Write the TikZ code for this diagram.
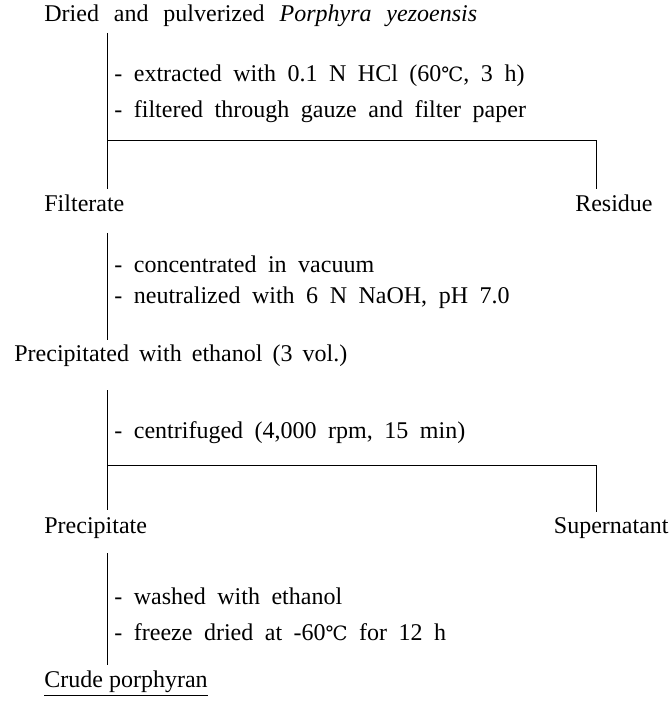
\documentclass[tikz,border=0pt]{standalone}
\usepackage{fontspec}
\setmainfont{Liberation Serif}
\newfontfamily\symfont[Scale=0.82]{DejaVu Serif}
\newcommand{\degC}{{\symfont ℃}}
\newcommand{\widesp}[1]{\spaceskip=#1em plus 0.1em minus 0.05em\relax}
\usetikzlibrary{positioning}
\tikzset{
  stage/.style={anchor=base west,inner sep=0pt,font=\fontsize{12}{14}\selectfont,
    execute at begin node={\widesp{0.42}}},
  note/.style={anchor=base west,inner sep=0pt,font=\fontsize{12}{14}\selectfont,
    execute at begin node={\widesp{0.48}}},
  flow/.style={line width=0.5pt}
}
\begin{document}
\begin{tikzpicture}[x=0.5pt,y=-0.5pt]
            \useasboundingbox (0,0) rectangle (670,716);
            % stages
            \node[stage,execute at begin node={\widesp{0.62}}] (dried) at (44,22) {Dried and pulverized \textit{Porphyra yezoensis}};
            \node[stage] (filt) at (44,212) {Filterate};
            \node[stage,anchor=base east] (resid) at (653,212) {Residue};
            \node[stage] (ppt) at (14,361) {Precipitated with ethanol (3 vol.)};
            \node[stage] (prec) at (44,533) {Precipitate};
            \node[stage,anchor=base east] (super) at (669,533) {Supernatant};
            \node[stage,execute at begin node={\widesp{0.25}}] (crude) at (44,687) {\underline{Crude porphyran}};
            % treatments
            \node[note] (s1) at (114,82) {- extracted with 0.1 N HCl (60\degC, 3 h)};
            \node[note] (s2) at (114,118) {- filtered through gauze and filter paper};
            \node[note] (s3) at (114,272) {- concentrated in vacuum};
            \node[note] (s4) at (114,304) {- neutralized with 6 N NaOH, pH 7.0};
            \node[note] (s5) at (114,438) {- centrifuged (4,000 rpm, 15 min)};
            \node[note] (s6) at (114,604) {- washed with ethanol};
            \node[note] (s7) at (114,640) {- freeze dried at -60\degC\ for 12 h};
            % lines
            \path (107,33) coordinate (a1) (107,189) coordinate (a2);
            \path (107,141) coordinate (j1) (596,141) coordinate (r1) (596,189) coordinate (r2);
            \path (107,233) coordinate (b1) (107,340) coordinate (b2);
            \path (107,390) coordinate (c1) (107,510) coordinate (c2);
            \path (107,465) coordinate (j2) (596,465) coordinate (r3) (596,512) coordinate (r4);
            \path (107,553) coordinate (d1) (107,665) coordinate (d2);
            \draw[flow] (a1) -- (a2);
            \draw[flow] (j1) -- (r1) -- (r2);
            \draw[flow] (b1) -- (b2);
            \draw[flow] (c1) -- (c2);
            \draw[flow] (j2) -- (r3) -- (r4);
            \draw[flow] (d1) -- (d2);
        \end{tikzpicture}
\end{document}
